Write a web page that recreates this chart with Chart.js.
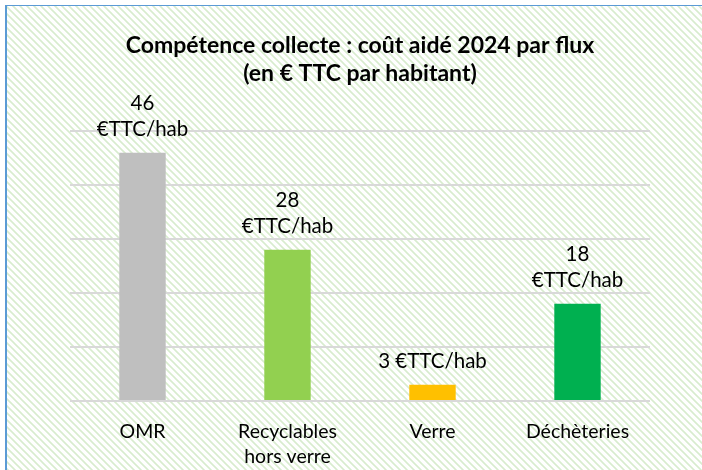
<!DOCTYPE html>
<html>
<head>
<meta charset="utf-8">
<script src="https://cdn.jsdelivr.net/npm/chart.js@4.4.1/dist/chart.umd.min.js"></script>
<style>
  html, body { margin: 0; padding: 0; background: #fff; }
  #wrap { position: relative; width: 702px; height: 470px; }
</style>
</head>
<body>
<div id="wrap"><canvas id="chart"></canvas></div>
<script>
// chart data
const categories = ['OMR', ['Recyclables', 'hors verre'], 'Verre', 'Déchèteries'];
const costPerHab = [46, 28, 3, 18];
const valueLabels = [['46', '€TTC/hab'], ['28', '€TTC/hab'], ['3 €TTC/hab'], ['18', '€TTC/hab']];
const barColors = ['#bfbfbf', '#92d050', '#ffc000', '#00b050'];
const titleLines = ['Compétence collecte : coût aidé 2024 par flux', '(en € TTC par habitant)'];
const yMin = 0, yMax = 50, yStep = 10;

const FONT = 'Lato, "Open Sans", sans-serif';

// hatched background like the office chart fill
function makeHatch() {
    const s = 7;
    const c = document.createElement('canvas');
    c.width = s; c.height = s;
    const g = c.getContext('2d');
    g.strokeStyle = '#d8ecce';
    g.lineWidth = 1.6;
    g.beginPath();
    g.moveTo(-2, -2); g.lineTo(s + 2, s + 2);
    g.moveTo(-2, s - 2); g.lineTo(2, s + 2);
    g.moveTo(s - 2, -2); g.lineTo(s + 2, 2);
    g.stroke();
    return c;
}

const backgroundPlugin = {
    id: 'hatchBackground',
    beforeDraw(chart) {
        const ctx = chart.ctx;
        const w = chart.width, h = chart.height;
        ctx.save();
        ctx.fillStyle = '#ffffff';
        ctx.fillRect(0, 0, w, h);
        ctx.fillStyle = ctx.createPattern(makeHatch(), 'repeat');
        ctx.fillRect(6, 6, w - 6, h - 6);
        // frame (left and top edges are the only visible ones)
        ctx.strokeStyle = '#5b9bd5';
        ctx.lineWidth = 1;
        ctx.beginPath();
        ctx.moveTo(5, 5.5); ctx.lineTo(w, 5.5);
        ctx.stroke();
        ctx.lineWidth = 2;
        ctx.beginPath();
        ctx.moveTo(6, 5); ctx.lineTo(6, h);
        ctx.stroke();
        ctx.restore();
    }
};

// value labels above each bar
const valueLabelPlugin = {
    id: 'valueLabels',
    afterDatasetsDraw(chart) {
        const ctx = chart.ctx;
        const meta = chart.getDatasetMeta(0);
        ctx.save();
        ctx.font = '20.5px ' + FONT;
        ctx.fillStyle = '#000';
        ctx.textAlign = 'center';
        ctx.textBaseline = 'middle';
        meta.data.forEach((bar, i) => {
            const lines = valueLabels[i];
            let y = bar.y - 23;
            for (let k = lines.length - 1; k >= 0; k--) {
                ctx.fillText(lines[k], bar.x, y);
                y -= 26;
            }
        });
        ctx.restore();
    }
};

new Chart(document.getElementById('chart'), {
    type: 'bar',
    data: {
        labels: categories,
        datasets: [{
            data: costPerHab,
            backgroundColor: barColors,
            borderWidth: 0,
            barPercentage: 0.8,
            categoryPercentage: 0.4
        }]
    },
    options: {
        responsive: true,
        maintainAspectRatio: false,
        animation: false,
        layout: { padding: { left: 70, right: 52, top: 0, bottom: 0 } },
        plugins: {
            legend: { display: false },
            tooltip: { enabled: false },
            title: {
                display: true,
                text: titleLines,
                color: '#000',
                font: { family: FONT, size: 23, weight: 'bold', lineHeight: 1.24 },
                padding: { top: 31, bottom: 43 }
            }
        },
        scales: {
            x: {
                grid: { display: false, drawTicks: false },
                border: { display: false },
                ticks: {
                    color: '#000',
                    padding: 18,
                    font: { family: FONT, size: 19.5, lineHeight: 1.28 }
                },
                afterFit(scale) { scale.height = 69; }
            },
            y: {
                min: yMin,
                max: yMax,
                ticks: { display: false, stepSize: yStep },
                grid: { color: '#d9d9d9', lineWidth: 2, drawTicks: false },
                border: { display: false }
            }
        }
    },
    plugins: [backgroundPlugin, valueLabelPlugin]
});
</script>
</body>
</html>
